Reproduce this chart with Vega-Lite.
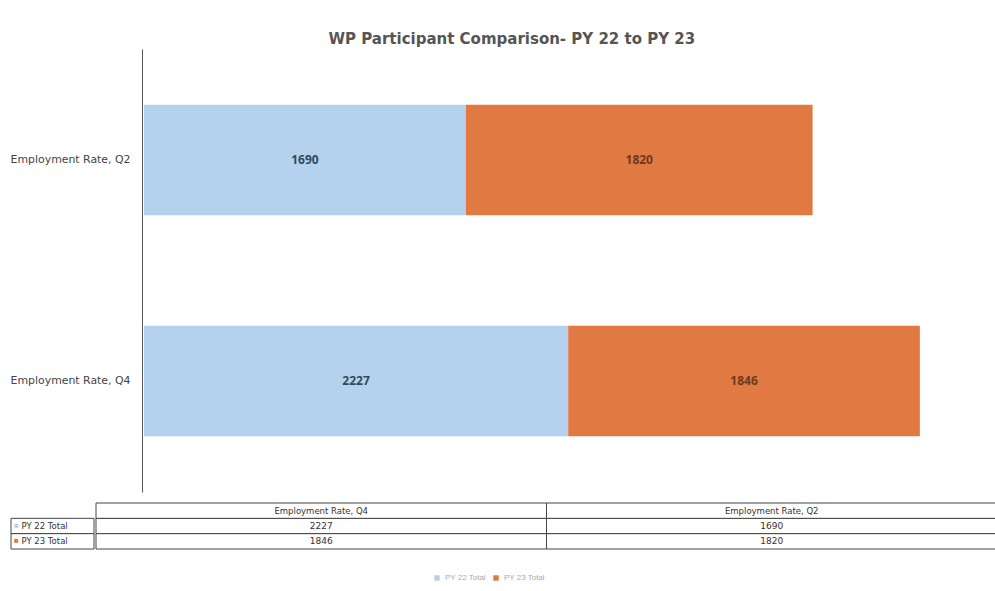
{
  "$schema": "https://vega.github.io/schema/vega-lite/v6.json",
  "padding": {"top": 32, "left": 10, "right": 0, "bottom": 0},
  "background": "white",
  "title": {"text": "WP Participant Comparison- PY 22 to PY 23", "fontSize": 15, "font": "DejaVu Sans", "fontWeight": "bold", "color": "#555555", "offset": 2, "anchor": "middle", "dx": 8},
  "datasets": {
    "bars": [
      {"category": "Employment Rate, Q2", "series": "PY 22 Total", "value": 1690},
      {"category": "Employment Rate, Q2", "series": "PY 23 Total", "value": 1820},
      {"category": "Employment Rate, Q4", "series": "PY 22 Total", "value": 2227},
      {"category": "Employment Rate, Q4", "series": "PY 23 Total", "value": 1846}
    ]
  },
  "resolve": {"scale": {"color": "shared"}, "legend": {"color": "shared"}},
  "spacing": 10,
  "vconcat": [
    {
      "width": 978,
      "height": 443,
      "data": {"name": "bars"},
      "encoding": {
        "y": {"field": "category", "type": "nominal", "sort": ["Employment Rate, Q2", "Employment Rate, Q4"],
          "scale": {"paddingInner": 0.5, "paddingOuter": 0.253},
          "axis": {"title": null, "ticks": false, "offset": -131, "labelFontSize": 10.9, "labelColor": "#444444", "labelPadding": 12, "domainColor": "#555555", "labelFont": "DejaVu Sans"}},
        "x": {"field": "value", "type": "quantitative", "stack": "zero", "scale": {"domain": [-698, 4436], "nice": false, "zero": false}, "axis": null},
        "order": {"field": "series", "sort": "ascending"}
      },
      "layer": [
        {
          "mark": {"type": "bar"},
          "encoding": {
            "color": {"field": "series", "type": "nominal", "scale": {"domain": ["PY 22 Total", "PY 23 Total"], "range": ["#b4d2ee", "#e07a42"]},
              "legend": {"title": null, "orient": "none", "direction": "horizontal", "legendX": 422, "legendY": 525, "labelFontSize": 8, "labelColor": "#aaaaaa", "symbolType": "square", "symbolSize": 30, "columnPadding": 6}}
          }
        },
        {
          "mark": {"type": "text", "fontSize": 12, "fontWeight": "bold", "font": "Open Sans"},
          "encoding": {
            "x": {"field": "value", "type": "quantitative", "stack": "zero", "bandPosition": 0.5},
            "detail": {"field": "series"},
            "text": {"field": "value", "type": "quantitative"},
            "color": {"condition": {"test": "datum.series === 'PY 22 Total'", "value": "#2f4a60"}, "value": "#6b3a22"}
          }
        }
      ]
    },
    {
      "spacing": 0,
      "resolve": {"scale": {"color": "shared"}},
      "hconcat": [
        {
          "width": 83,
          "height": 46,
          "data": {"name": "bars"},
          "transform": [{"aggregate": [{"op": "count", "as": "n"}], "groupby": ["series"]}],
          "encoding": {
            "y": {"field": "series", "type": "nominal", "scale": {"domain": ["header", "PY 22 Total", "PY 23 Total"], "paddingInner": 0, "paddingOuter": 0}, "axis": null}
          },
          "layer": [
            {"mark": {"type": "rect", "fill": "white", "stroke": "#444444", "strokeWidth": 1}},
            {"mark": {"type": "text", "text": "■", "fontSize": 8, "dx": -36, "align": "center"},
              "encoding": {"color": {"field": "series", "type": "nominal", "legend": null}}},
            {"mark": {"type": "text", "fontSize": 8.5, "dx": -31, "align": "left", "color": "#333333", "font": "DejaVu Sans"},
              "encoding": {"text": {"field": "series"}}}
          ]
        },
        {
          "width": 901,
          "height": 46,
          "data": {"name": "bars"},
          "encoding": {
            "x": {"field": "category", "type": "nominal", "scale": {"domain": ["Employment Rate, Q4", "Employment Rate, Q2"], "paddingInner": 0, "paddingOuter": 0}, "axis": null}
          },
          "layer": [
            {"mark": {"type": "rect", "fill": "white", "stroke": "#444444", "strokeWidth": 1},
              "encoding": {"y": {"field": "series", "type": "nominal", "scale": {"domain": ["header", "PY 22 Total", "PY 23 Total"], "paddingInner": 0, "paddingOuter": 0}, "axis": null}}},
            {"mark": {"type": "text", "fontSize": 9, "color": "#333333", "font": "DejaVu Sans"},
              "encoding": {"y": {"field": "series", "type": "nominal"}, "text": {"field": "value", "type": "quantitative"}}},
            {"transform": [{"aggregate": [{"op": "count", "as": "n"}], "groupby": ["category"]}],
              "mark": {"type": "rect", "fill": "white", "stroke": "#444444", "strokeWidth": 1},
              "encoding": {"y": {"datum": "header", "type": "nominal"}}},
            {"transform": [{"aggregate": [{"op": "count", "as": "n"}], "groupby": ["category"]}],
              "mark": {"type": "text", "fontSize": 8.5, "color": "#333333", "font": "DejaVu Sans"},
              "encoding": {"y": {"datum": "header", "type": "nominal"}, "text": {"field": "category"}}}
          ]
        }
      ]
    }
  ],
  "config": {"view": {"stroke": null}}
}
